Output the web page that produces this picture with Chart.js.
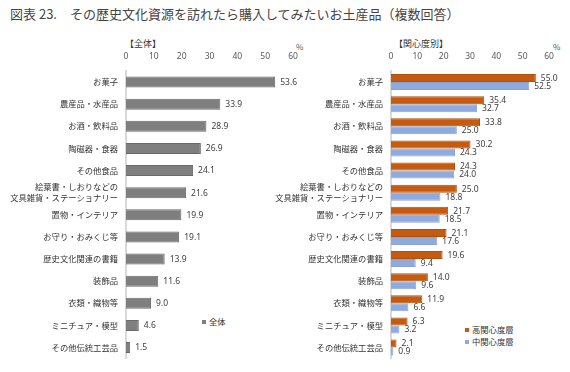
<!DOCTYPE html>
<html>
<head>
<meta charset="utf-8">
<script src="https://cdn.jsdelivr.net/npm/chart.js@4/dist/chart.umd.min.js"></script>
<style>
  body { margin: 0; width: 570px; height: 372px; background: #fff; position: relative; overflow: hidden;
         font-family: "Noto Sans CJK JP", sans-serif; color: #333; }
  .abs { position: absolute; white-space: nowrap; }
  #title { left: 10px; top: 4px; font-size: 13px; color: #444; }
  .sub { font-size: 9px; color: #333; top: 37px; }
  .pct { font-size: 8px; color: #555; top: 41px; }
  .leg { font-size: 8.3px; color: #333; }
  .sq { display: inline-block; width: 4px; height: 4px; margin-right: 3px; vertical-align: 1px; }
  canvas { position: absolute; }
</style>
</head>
<body>
<div id="title" class="abs">図表 23.　その歴史文化資源を訪れたら購入してみたいお土産品（複数回答）</div>
<div class="abs sub" style="left:125px">【全体】</div>
<div class="abs sub" style="left:394px">【関心度別】</div>
<div class="abs pct" style="left:296px">%</div>
<div class="abs pct" style="left:553px">%</div>
<div class="abs leg" id="legLeft" style="left:202px; top:315px"></div>
<div class="abs leg" id="legRight" style="left:465px; top:323px; line-height:12px"></div>

<div style="position:absolute; left:0; top:36px; width:300px; height:336px"><canvas id="left"></canvas></div>
<div style="position:absolute; left:270px; top:36px; width:300px; height:336px"><canvas id="right"></canvas></div>

<script>
var categories = [
  'お菓子', '農産品・水産品', 'お酒・飲料品', '陶磁器・食器', 'その他食品',
  ['絵葉書・しおりなどの', '文具雑貨・ステーショナリー'],
  '置物・インテリア', 'お守り・おみくじ等', '歴史文化関連の書籍', '装飾品',
  '衣類・織物等', 'ミニチュア・模型', 'その他伝統工芸品'
];
var allValues = [53.6, 33.9, 28.9, 26.9, 24.1, 21.6, 19.9, 19.1, 13.9, 11.6, 9.0, 4.6, 1.5];
var highValues = [55.0, 35.4, 33.8, 30.2, 24.3, 25.0, 21.7, 21.1, 19.6, 14.0, 11.9, 6.3, 2.1];
var midValues = [52.5, 32.7, 25.0, 24.3, 24.0, 18.8, 18.5, 17.6, 9.4, 9.6, 6.6, 3.2, 0.9];
var xTicks = [0, 10, 20, 30, 40, 50, 60];

var grey = '#7f7f7f', orange = '#c55a11', blue = '#8faadc';

// 値ラベルを棒の右に描く
var valueLabels = {
  id: 'valueLabels',
  afterDatasetsDraw: function(chart) {
    var ctx = chart.ctx;
    ctx.save();
    ctx.font = '8.5px "Noto Sans", sans-serif';
    ctx.fillStyle = '#404040';
    ctx.textBaseline = 'middle';
    chart.data.datasets.forEach(function(ds, i) {
      chart.getDatasetMeta(i).data.forEach(function(bar, j) {
        ctx.fillText(ds.data[j].toFixed(1), bar.x + 5, bar.y + 0.5);
      });
    });
    ctx.restore();
  }
};

function makeOptions(yWidth, padRight) {
  return {
    indexAxis: 'y',
    responsive: true,
    maintainAspectRatio: false,
    animation: false,
    layout: { padding: { top: 0, right: padRight, bottom: 12, left: 0 } },
    plugins: { legend: { display: false }, tooltip: { enabled: false } },
    scales: {
      x: {
        position: 'top',
        min: 0, max: 60,
        afterFit: function(s) { s.height = 35; s.paddingLeft = 0; s.paddingRight = 0; },
        afterBuildTicks: function(s) { s.ticks = xTicks.map(function(v) { return { value: v }; }); },
        grid: { display: false, drawTicks: false },
        border: { display: false },
        ticks: { color: '#595959', padding: 9, font: { size: 8.5, family: '"Noto Sans", sans-serif' } }
      },
      y: {
        afterFit: function(s) { s.width = yWidth; },
        grid: { display: false, drawTicks: false },
        border: { display: true, color: '#d9d9d9', width: 2 },
        ticks: { color: '#333', padding: 8, autoSkip: false,
                 font: { size: 8.3, family: '"Noto Sans CJK JP", sans-serif', lineHeight: 1.3 } }
      }
    }
  };
}

new Chart(document.getElementById('left'), {
  type: 'bar',
  data: {
    labels: categories,
    datasets: [{ label: '全体', data: allValues, backgroundColor: grey,
                 borderColor: '#6a6a6a', borderWidth: 1, barPercentage: 1, categoryPercentage: 0.5 }]
  },
  options: makeOptions(126, 7),
  plugins: [valueLabels]
});

var rightChart = new Chart(document.getElementById('right'), {
  type: 'bar',
  data: {
    labels: categories,
    datasets: [
      { label: '高関心度層', data: highValues, backgroundColor: orange, borderColor: '#b0500f', borderWidth: 1,
        barPercentage: 1, categoryPercentage: 0.72 },
      { label: '中関心度層', data: midValues, backgroundColor: blue, borderColor: '#8aa3d3', borderWidth: 1,
        barPercentage: 1, categoryPercentage: 0.72 }
    ]
  },
  options: makeOptions(121, 21),
  plugins: [valueLabels]
});

// 凡例
document.getElementById('legLeft').innerHTML =
  '<span class="sq" style="background:' + grey + '"></span>全体';
document.getElementById('legRight').innerHTML = rightChart.data.datasets.map(function(ds) {
  return '<div><span class="sq" style="background:' + ds.backgroundColor + '"></span>' + ds.label + '</div>';
}).join('');
</script>
</body>
</html>
